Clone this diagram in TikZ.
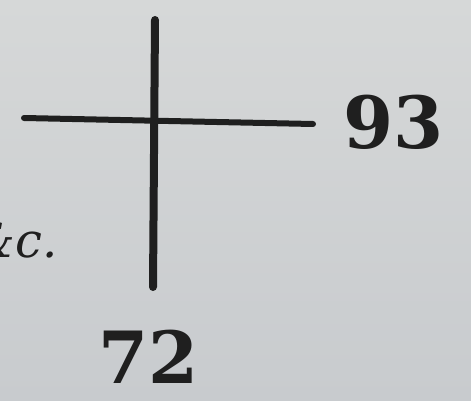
\documentclass[tikz,border=0pt]{standalone}
\usepackage{fontspec}
\setmainfont{DejaVu Serif}
\begin{document}
\begin{tikzpicture}[x=1pt,y=-1pt,
  ink/.style={draw=black!88,line cap=round,line join=round},
  hand/.style={text=black!88,font=\fontsize{72}{72}\selectfont\bfseries,inner sep=0pt}]
\definecolor{paper}{RGB}{200,203,206}
\definecolor{paperlight}{RGB}{214,216,216}
\useasboundingbox (0,0) rectangle (471,401);
\clip (0,0) rectangle (471,401);
\shade[top color=paperlight,bottom color=paper] (0,0) rectangle (471,401);
% cross
\coordinate (vt) at (155,20);
\coordinate (vb) at (153,287);
\coordinate (hl) at (24,118);
\coordinate (hr) at (313,124);
\draw[ink,line width=8pt] (vt) -- (vb);
\draw[ink,line width=6pt] (hl) -- (hr);
% labels
\node[hand,anchor=base west] (n93) at (343,148) {93};
\node[hand,anchor=base west] (n72) at (98,383) {72};
\node[hand,font=\fontsize{48}{48}\selectfont\itshape,anchor=base east] (etc) at (58,257) {\&c.};
\end{tikzpicture}
\end{document}
